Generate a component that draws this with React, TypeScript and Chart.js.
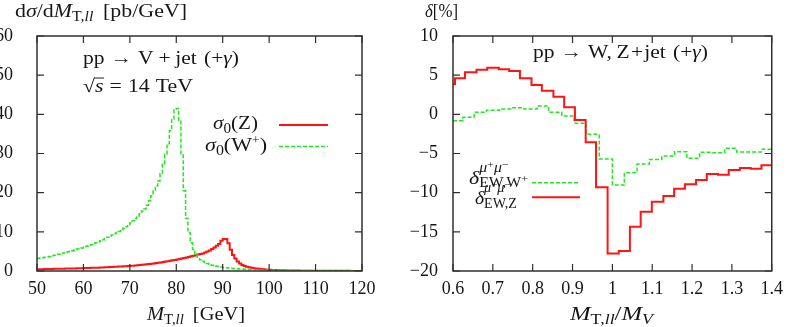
import React, { useEffect, useRef } from 'react';
import { Chart, registerables } from 'chart.js';

Chart.register(...registerables);

// ---------- Left panel: d sigma / d M_T,ll  [pb/GeV] ----------
const massEdgesGeV = [
  50, 50.5, 51, 51.5, 52, 52.5, 53, 53.5, 54, 54.5,
  55, 55.5, 56, 56.5, 57, 57.5, 58, 58.5, 59, 59.5,
  60, 60.5, 61, 61.5, 62, 62.5, 63, 63.5, 64, 64.5,
  65, 65.5, 66, 66.5, 67, 67.5, 68, 68.5, 69, 69.5,
  70, 70.5, 71, 71.5, 72, 72.5, 73, 73.5, 74, 74.5,
  75, 75.5, 76, 76.5, 77, 77.5, 78, 78.5, 79, 79.5,
  80, 80.5, 81, 81.5, 82, 82.5, 83, 83.5, 84, 84.5,
  85, 85.5, 86, 86.5, 87, 87.5, 88, 88.5, 89, 89.5,
  90, 90.5, 91, 91.5, 92, 92.5, 93, 93.5, 94, 94.5,
  95, 95.5, 96, 96.5, 97, 97.5, 98, 98.5, 99, 99.5,
  100, 100.5, 101, 101.5, 102, 102.5, 103, 103.5, 104, 104.5,
  105, 105.5, 106, 106.5, 107, 107.5, 108, 108.5, 109, 109.5,
  110, 110.5, 111, 111.5, 112, 112.5, 113, 113.5, 114, 114.5,
  115, 115.5, 116, 116.5, 117, 117.5, 118, 118.5, 119, 119.5,
  120,
];

const sigmaZ = [
  0.43, 0.45, 0.46, 0.48, 0.5, 0.51, 0.53, 0.55, 0.56, 0.57,
  0.58, 0.6, 0.61, 0.63, 0.64, 0.66, 0.67, 0.69, 0.7, 0.72,
  0.74, 0.76, 0.78, 0.8, 0.82, 0.84, 0.86, 0.88, 0.91, 0.94,
  0.97, 1.0, 1.03, 1.06, 1.09, 1.12, 1.16, 1.2, 1.24, 1.28,
  1.32, 1.36, 1.41, 1.46, 1.51, 1.57, 1.63, 1.7, 1.77, 1.85,
  1.93, 2.02, 2.11, 2.2, 2.3, 2.4, 2.5, 2.6, 2.72, 2.84,
  2.96, 3.08, 3.2, 3.33, 3.47, 3.6, 3.75, 3.9, 4.05, 4.22,
  4.35, 4.5, 4.7, 4.95, 5.25, 5.6, 6.0, 6.45, 6.9, 7.7,
  8.2, 8.2, 7.1, 5.4, 4.1, 3.2, 2.4, 1.9, 1.55, 1.3,
  1.1, 0.95, 0.82, 0.72, 0.63, 0.55, 0.49, 0.43, 0.38, 0.34,
  0.3, 0.27, 0.24, 0.22, 0.2, 0.18, 0.16, 0.15, 0.14, 0.13,
  0.12, 0.11, 0.1, 0.09, 0.085, 0.08, 0.075, 0.07, 0.065, 0.06,
  0.058, 0.055, 0.052, 0.05, 0.047, 0.045, 0.043, 0.041, 0.04, 0.038,
  0.036, 0.035, 0.034, 0.033, 0.032, 0.031, 0.03, 0.03, 0.029, 0.028,
];

const sigmaW = [
  3.2, 3.3, 3.4, 3.5, 3.6, 3.7, 3.9, 4.0, 4.2, 4.3,
  4.5, 4.6, 4.8, 4.9, 5.1, 5.2, 5.4, 5.6, 5.8, 5.9,
  6.1, 6.3, 6.5, 6.7, 7.0, 7.2, 7.4, 7.7, 8.0, 8.3,
  8.6, 8.9, 9.2, 9.5, 9.8, 10.1, 10.5, 10.9, 11.3, 11.8,
  12.3, 12.8, 13.4, 14.0, 14.6, 15.3, 15.8, 16.8, 18.0, 19.2,
  20.4, 21.7, 23.0, 24.8, 27.3, 29.8, 32.5, 35.8, 38.8, 41.1,
  41.5, 38.5, 29.6, 20.5, 13.5, 9.8, 7.2, 5.5, 4.3, 3.5,
  2.9, 2.5, 2.2, 1.9, 1.7, 1.5, 1.35, 1.2, 1.1, 1.0,
  0.92, 0.85, 0.78, 0.72, 0.66, 0.61, 0.56, 0.52, 0.48, 0.45,
  0.42, 0.39, 0.36, 0.34, 0.32, 0.3, 0.28, 0.26, 0.25, 0.23,
  0.21, 0.2, 0.19, 0.18, 0.17, 0.16, 0.15, 0.15, 0.14, 0.13,
  0.13, 0.12, 0.12, 0.11, 0.11, 0.1, 0.1, 0.1, 0.09, 0.09,
  0.09, 0.08, 0.08, 0.08, 0.07, 0.07, 0.07, 0.07, 0.06, 0.06,
  0.06, 0.06, 0.06, 0.05, 0.05, 0.05, 0.05, 0.05, 0.05, 0.05,
];

const leftXTicks = [50, 60, 70, 80, 90, 100, 110, 120];
const leftYTicks = [0, 10, 20, 30, 40, 50, 60];

// ---------- Right panel: delta [%] vs M_T,ll / M_V ----------
const zRatioEdges = [
  0.6, 0.605, 0.63, 0.659, 0.686, 0.715, 0.741, 0.768, 0.797, 0.823,
  0.852, 0.879, 0.906, 0.933, 0.959, 0.988, 1.016, 1.044, 1.071, 1.099,
  1.128, 1.155, 1.182, 1.21, 1.237, 1.265, 1.292, 1.32, 1.347, 1.374,
  1.4,
];
const deltaZ = [
  3.83, 4.6, 5.36, 5.7, 5.95, 5.74, 5.53, 4.6, 3.74, 3.02,
  2.25, 0.89, -0.73, -3.57, -9.3, -17.75, -17.45, -14.35, -12.43, -11.16,
  -10.43, -9.5, -8.94, -8.39, -7.62, -7.7, -7.11, -6.86, -6.94, -6.51,
];

const wRatioEdges = [
  0.6, 0.625, 0.653, 0.684, 0.717, 0.745, 0.778, 0.811, 0.84, 0.873,
  0.904, 0.934, 0.967, 1.0, 1.03, 1.062, 1.093, 1.124, 1.156, 1.187,
  1.219, 1.251, 1.282, 1.312, 1.343, 1.374, 1.4,
];
const deltaW = [
  -0.81, -0.38, 0.26, 0.51, 0.68, 0.85, 0.68, 1.06, 0.26, -0.22,
  -1.15, -2.55, -5.7, -9.03, -7.45, -6.35, -5.75, -5.32, -4.77, -5.62,
  -4.85, -4.9, -4.34, -4.81, -4.81, -4.47,
];

const rightXTicks = [0.6, 0.7, 0.8, 0.9, 1.0, 1.1, 1.2, 1.3, 1.4];
const rightYTicks = [-20, -15, -10, -5, 0, 5, 10];

// ---------- styling ----------
const RED = '#ff1414';
const GREEN = '#22e822';
const TEXT = '#161616';
const FRAME = '#303030';
const FAMILY = '"Liberation Serif", "Times New Roman", serif';
const TICK_FONT = { family: FAMILY, size: 18 };

type Seg = {
  t?: string;
  i?: boolean;
  s?: number;
  dy?: number;
  dx?: number;
  over?: boolean;
  stack?: Seg[][];
};

function setFont(ctx: CanvasRenderingContext2D, seg: Seg) {
  ctx.font = `${seg.i ? 'italic ' : ''}${seg.s || 18}px ${FAMILY}`;
}

function segsWidth(ctx: CanvasRenderingContext2D, segs: Seg[]): number {
  let w = 0;
  for (const seg of segs) {
    if (seg.stack) {
      w += (seg.dx || 0) + Math.max(...seg.stack.map((row) => segsWidth(ctx, row)));
    } else {
      setFont(ctx, seg);
      w += (seg.dx || 0) + ctx.measureText(seg.t || '').width;
    }
  }
  return w;
}

function drawSegs(ctx: CanvasRenderingContext2D, segs: Seg[], x0: number): number {
  let x = x0;
  for (const seg of segs) {
    x += seg.dx || 0;
    if (seg.stack) {
      let maxW = 0;
      for (const row of seg.stack) {
        const end = drawSegs(ctx, row, x);
        maxW = Math.max(maxW, end - x);
      }
      x += maxW;
    } else {
      setFont(ctx, seg);
      const w = ctx.measureText(seg.t || '').width;
      ctx.fillText(seg.t || '', x, seg.dy || 0);
      if (seg.over) {
        const size = seg.s || 18;
        ctx.save();
        ctx.lineWidth = 0.9;
        ctx.beginPath();
        ctx.moveTo(x - 0.5, -size * 0.74);
        ctx.lineTo(x + w + 0.5, -size * 0.74);
        ctx.stroke();
        ctx.restore();
      }
      x += w;
    }
  }
  return x;
}

// draws a run of text segments so that it spans [x, x + width]
function drawRich(ctx: CanvasRenderingContext2D, x: number, baseline: number, width: number, segs: Seg[]) {
  ctx.save();
  ctx.fillStyle = TEXT;
  ctx.strokeStyle = TEXT;
  ctx.textBaseline = 'alphabetic';
  ctx.textAlign = 'left';
  const natural = segsWidth(ctx, segs);
  ctx.translate(x, baseline);
  ctx.scale(width / natural, 1.05);
  drawSegs(ctx, segs, 0);
  ctx.restore();
}

function drawSample(ctx: CanvasRenderingContext2D, x1: number, x2: number, y: number, color: string, lw: number, dash: number[]) {
  ctx.save();
  ctx.strokeStyle = color;
  ctx.lineWidth = lw;
  ctx.setLineDash(dash);
  ctx.beginPath();
  ctx.moveTo(x1, y);
  ctx.lineTo(x2, y);
  ctx.stroke();
  ctx.restore();
}

function drawFrame(chart: any) {
  const { ctx, chartArea: a, scales } = chart;
  const TL = 7;
  ctx.save();
  ctx.strokeStyle = FRAME;
  ctx.lineWidth = 1.5;
  ctx.beginPath();
  ctx.rect(a.left, a.top, a.right - a.left, a.bottom - a.top);
  ctx.stroke();
  ctx.lineWidth = 1.2;
  ctx.beginPath();
  for (const t of scales.x.ticks) {
    const px = scales.x.getPixelForValue(t.value);
    ctx.moveTo(px, a.bottom);
    ctx.lineTo(px, a.bottom - TL);
    ctx.moveTo(px, a.top);
    ctx.lineTo(px, a.top + TL);
  }
  for (const t of scales.y.ticks) {
    const py = scales.y.getPixelForValue(t.value);
    ctx.moveTo(a.left, py);
    ctx.lineTo(a.left + TL, py);
    ctx.moveTo(a.right, py);
    ctx.lineTo(a.right - TL, py);
  }
  ctx.stroke();
  ctx.restore();
}

function stepPoints(edges: number[], vals: number[]) {
  return edges.map((x, i) => ({ x, y: vals[Math.min(i, vals.length - 1)] }));
}

function fmtTick(v: number) {
  const r = Math.round(v * 10) / 10;
  return String(r).replace('-', '\u2212');
}

function makeScales(xMin: number, xMax: number, xTicks: number[], yMin: number, yMax: number, yTicks: number[], yPad: number, yWidth: number) {
  return {
    x: {
      type: 'linear' as const,
      min: xMin,
      max: xMax,
      afterBuildTicks: (s: any) => { s.ticks = xTicks.map((value) => ({ value })); },
      ticks: { font: TICK_FONT, color: TEXT, padding: 7, maxRotation: 0, autoSkip: false, callback: (v: any) => fmtTick(Number(v)) },
      grid: { display: false, drawTicks: false },
      border: { display: false },
      afterFit: (s: any) => { s.height = 56; },
    },
    y: {
      type: 'linear' as const,
      min: yMin,
      max: yMax,
      afterBuildTicks: (s: any) => { s.ticks = yTicks.map((value) => ({ value })); },
      ticks: { font: TICK_FONT, color: TEXT, padding: yPad, autoSkip: false, callback: (v: any) => fmtTick(Number(v)) },
      grid: { display: false, drawTicks: false },
      border: { display: false },
      afterFit: (s: any) => { s.width = yWidth; },
    },
  };
}

function leftConfig(): any {
  const deco = {
    id: 'leftDeco',
    afterDraw(chart: any) {
      const ctx = chart.ctx as CanvasRenderingContext2D;
      drawFrame(chart);
      drawRich(ctx, 15, 17, 172, [
        { t: 'd' }, { t: 'σ', i: true }, { t: '/d' }, { t: 'M', i: true },
        { t: 'T,', s: 13, dy: 4 }, { t: 'll', i: true, s: 13, dy: 4 }, { t: '[pb/GeV]', dx: 8 },
      ]);
      drawRich(ctx, 83, 64, 156, [
        { t: 'pp' }, { t: '→', dx: 5 }, { t: 'V', dx: 5 }, { t: '+', dx: 4 }, { t: 'jet', dx: 4 },
        { t: '(+', dx: 6 }, { t: 'γ', i: true }, { t: ')' },
      ]);
      drawRich(ctx, 83, 92, 110, [
        { t: '√' }, { t: 's', i: true, over: true }, { t: '=', dx: 5 }, { t: '14', dx: 5 }, { t: 'TeV', dx: 5 },
      ]);
      drawRich(ctx, 213, 129, 45, [{ t: 'σ', i: true }, { t: '0', s: 13, dy: 4 }, { t: '(Z)' }]);
      drawRich(ctx, 205, 151, 62, [
        { t: 'σ', i: true }, { t: '0', s: 13, dy: 4 }, { t: '(W' }, { t: '+', s: 11, dy: -7 }, { t: ')' },
      ]);
      drawSample(ctx, 279, 328, 125, RED, 2, []);
      drawSample(ctx, 279, 328, 146.5, GREEN, 1.5, [4, 2]);
      drawRich(ctx, 147, 320, 98, [
        { t: 'M', i: true }, { t: 'T,', s: 13, dy: 4 }, { t: 'll', i: true, s: 13, dy: 4 }, { t: '[GeV]', dx: 8 },
      ]);
    },
  };
  return {
    type: 'line',
    data: {
      datasets: [
        { label: 'σ0(W+)', data: stepPoints(massEdgesGeV, sigmaW), borderColor: GREEN, borderWidth: 1.5, borderDash: [4, 2], stepped: true, pointRadius: 0, fill: false },
        { label: 'σ0(Z)', data: stepPoints(massEdgesGeV, sigmaZ), borderColor: RED, borderWidth: 2, stepped: true, pointRadius: 0, fill: false },
      ],
    },
    options: {
      animation: false,
      responsive: false,
      maintainAspectRatio: false,
      layout: { padding: { left: 0, top: 36, right: 33, bottom: 0 } },
      plugins: { legend: { display: false }, tooltip: { enabled: false }, title: { display: false } },
      scales: makeScales(50, 120, leftXTicks, 0, 60, leftYTicks, 24, 37),
    },
    plugins: [deco],
  };
}

function rightConfig(): any {
  const sup: Seg[] = [
    { t: 'μ', i: true, s: 13, dy: -11 }, { t: '+', s: 10, dy: -15 },
    { t: 'μ', i: true, s: 13, dy: -11 }, { t: '−', s: 10, dy: -15 },
  ];
  const deco = {
    id: 'rightDeco',
    afterDraw(chart: any) {
      const ctx = chart.ctx as CanvasRenderingContext2D;
      drawFrame(chart);
      drawRich(ctx, 30, 17, 33, [{ t: 'δ', i: true }, { t: '[%]' }]);
      drawRich(ctx, 138, 58, 175, [
        { t: 'pp' }, { t: '→', dx: 5 }, { t: 'W,', dx: 5 }, { t: 'Z', dx: 4 }, { t: '+', dx: 1 }, { t: 'jet', dx: 1 },
        { t: '(+', dx: 6 }, { t: 'γ', i: true }, { t: ')' },
      ]);
      drawRich(ctx, 74, 184, 59, [
        { t: 'δ', i: true },
        { stack: [sup, [{ t: 'EW,W', s: 13, dy: 3 }, { t: '+', s: 10, dy: -2 }]] },
      ]);
      drawRich(ctx, 80, 204, 42, [
        { t: 'δ', i: true },
        { stack: [sup, [{ t: 'EW,Z', s: 13, dy: 4 }]] },
      ]);
      drawSample(ctx, 137, 185, 182.7, GREEN, 1.5, [4, 2]);
      drawSample(ctx, 137, 185, 197.3, RED, 2, []);
      drawRich(ctx, 175, 320, 83, [
        { t: 'M', i: true }, { t: 'T,', s: 13, dy: 4 }, { t: 'll', i: true, s: 13, dy: 4 },
        { t: '/' }, { t: 'M', i: true }, { t: 'V', i: true, s: 13, dy: 4 },
      ]);
    },
  };
  return {
    type: 'line',
    data: {
      datasets: [
        { label: 'δ EW,Z', data: stepPoints(zRatioEdges, deltaZ), borderColor: RED, borderWidth: 2, stepped: true, pointRadius: 0, fill: false },
        { label: 'δ EW,W+', data: stepPoints(wRatioEdges, deltaW), borderColor: GREEN, borderWidth: 1.5, borderDash: [4, 2], stepped: true, pointRadius: 0, fill: false },
      ],
    },
    options: {
      animation: false,
      responsive: false,
      maintainAspectRatio: false,
      layout: { padding: { left: 0, top: 36, right: 13, bottom: 0 } },
      plugins: { legend: { display: false }, tooltip: { enabled: false }, title: { display: false } },
      scales: makeScales(0.6, 1.4, rightXTicks, -20, 10, rightYTicks, 15, 58),
    },
    plugins: [deco],
  };
}

export default function App() {
  const leftRef = useRef<HTMLCanvasElement | null>(null);
  const rightRef = useRef<HTMLCanvasElement | null>(null);

  useEffect(() => {
    const charts: Chart[] = [];
    if (leftRef.current) charts.push(new Chart(leftRef.current, leftConfig()));
    if (rightRef.current) charts.push(new Chart(rightRef.current, rightConfig()));
    return () => charts.forEach((c) => c.destroy());
  }, []);

  return (
    <div style={{ position: 'fixed', left: 0, top: 0, width: 790, height: 327, background: '#ffffff', overflow: 'hidden' }}>
      <canvas ref={leftRef} width={395} height={327} style={{ position: 'absolute', left: 0, top: 0, width: 395, height: 327 }} />
      <canvas ref={rightRef} width={395} height={327} style={{ position: 'absolute', left: 395, top: 0, width: 395, height: 327 }} />
    </div>
  );
}
